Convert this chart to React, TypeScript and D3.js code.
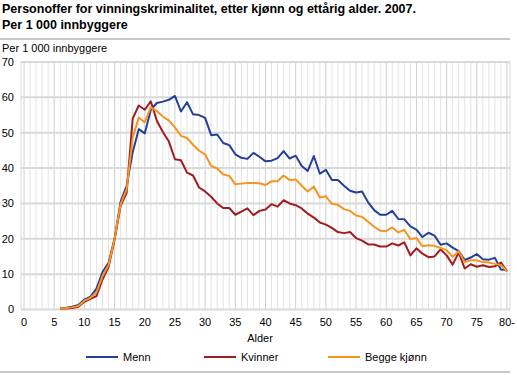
import React from "react";
import * as d3 from "d3";

const ages: string[] = Array.from({ length: 81 }, (_, i) => (i === 80 ? "80-" : String(i)));
const startAge = 6;

const menn: number[] = [
  0.3, 0.5, 0.8, 1.3, 2.8, 3.6, 5.9, 10.6, 13.2, 20.0, 30.5, 35.0, 44.5, 51.0, 49.8, 56.5, 58.4, 58.8, 59.3, 60.4,
  56.0, 58.6, 55.2, 55.0, 54.2, 49.3, 49.5, 47.1, 46.5, 43.9, 42.9, 42.6, 44.3, 43.2, 41.9, 42.1, 42.8, 44.8, 42.7, 43.5,
  40.6, 39.2, 43.4, 38.4, 39.5, 36.6, 36.6, 35.0, 33.6, 33.1, 33.4, 30.3, 28.1, 26.8, 26.8, 27.9, 25.6, 25.5, 23.5, 22.6,
  20.5, 21.7, 20.9, 18.3, 18.7, 17.5, 16.5, 14.0, 14.7, 15.7, 14.2, 14.1, 14.6, 11.3, 11.2,
];
const kvinner: number[] = [
  0.3, 0.3, 0.4, 0.8, 2.2, 3.0, 3.8, 8.5, 12.0, 19.8, 29.3, 33.0, 54.0, 57.7, 56.5, 58.9, 53.4, 50.2, 47.5, 42.5,
  42.2, 38.7, 37.9, 34.5, 33.4, 31.9, 30.0, 28.7, 28.7, 26.8, 27.7, 28.6, 26.7, 27.9, 28.3, 29.8, 29.1, 30.9, 30.0, 29.5,
  28.6, 27.1, 26.0, 24.6, 24.0, 23.1, 21.9, 21.6, 21.9, 20.2, 19.5, 18.4, 18.4, 17.8, 17.8, 18.7, 18.1, 19.0, 15.3, 17.3,
  15.8, 14.8, 15.0, 17.0, 15.3, 12.7, 16.1, 11.6, 12.8, 12.1, 12.5, 12.0, 12.2, 13.3, 10.8,
];
const begge: number[] = [
  0.3, 0.4, 0.6, 1.0, 2.5, 3.3, 4.8, 9.5, 12.6, 20.0, 29.8, 34.0, 48.5, 54.3, 53.0, 57.2, 56.1, 54.6, 53.4, 51.5,
  49.1, 48.5, 46.6, 44.9, 43.9, 40.6, 39.9, 38.2, 37.8, 35.4, 35.6, 35.8, 35.8, 35.7, 35.2, 36.3, 36.3, 37.9, 36.6, 36.8,
  35.0, 33.4, 34.8, 31.7, 32.0, 29.9, 29.6, 28.4, 27.9, 26.6, 26.2, 24.8, 23.4, 22.3, 22.2, 23.2, 21.8, 22.5, 19.9, 20.2,
  17.9, 18.2, 18.0, 17.4, 16.8, 14.9, 16.5, 13.4, 13.9, 13.9, 13.4, 13.3, 12.9, 12.6, 10.8,
];
const yTicks: number[] = [0, 10, 20, 30, 40, 50, 60, 70];
const seriesNames: string[] = ["Menn", "Kvinner", "Begge kjønn"];
const seriesColors: string[] = ["#21409a", "#a01c20", "#f7941e"];

const W = 517;
const H = 375;
const plotLeft = 21;
const plotRight = 510;
const plotTop = 62;
const plotBottom = 309.5;
const font = "'Liberation Sans', Arial, sans-serif";

export default function App() {
  const x = d3.scalePoint<string>().domain(ages).range([plotLeft, plotRight]).padding(0.5);
  const y = d3.scaleLinear().domain([0, 70]).range([plotBottom, plotTop]);
  const line = d3
    .line<number>()
    .x((_, i) => x(ages[i + startAge]) as number)
    .y((d) => y(d));
  const data = [menn, kvinner, begge];
  const legendX = [86, 204, 328];

  return (
    <svg width={W} height={H} style={{ position: "absolute", left: 0, top: 0, background: "#fff" }} fontFamily={font}>
      <text x={2} y={13} fontSize={12.5} fontWeight="bold" fill="#000">
        Personoffer for vinningskriminalitet, etter kjønn og ettårig alder. 2007.
      </text>
      <text x={2} y={29} fontSize={12.5} fontWeight="bold" fill="#000">
        Per 1 000 innbyggere
      </text>
      <line x1={0} x2={510} y1={39} y2={39} stroke="#c8c8c8" strokeWidth={2} />
      <text x={2} y={52} fontSize={11} fill="#000">
        Per 1 000 innbyggere
      </text>
      {ages.map((a, i) => (
        <line
          key={"v" + a}
          x1={x(a)}
          x2={x(a)}
          y1={plotTop}
          y2={plotBottom}
          stroke={i % 5 === 0 ? "#cfcfcf" : "#e3e3e3"}
          strokeWidth={1}
        />
      ))}
      <line x1={plotLeft} x2={plotLeft} y1={plotTop} y2={plotBottom} stroke="#d9d9d9" strokeWidth={1} />
      <line x1={plotRight} x2={plotRight} y1={plotTop} y2={plotBottom} stroke="#d9d9d9" strokeWidth={1} />
      {yTicks.map((t) => (
        <g key={"h" + t}>
          <line x1={plotLeft} x2={plotRight} y1={y(t)} y2={y(t)} stroke="#d9d9d9" strokeWidth={2} />
          <text x={14} y={y(t)} dy="0.35em" fontSize={11} textAnchor="end" fill="#000">
            {t}
          </text>
        </g>
      ))}
      {ages.map((a, i) =>
        i % 5 === 0 ? (
          <text key={"xl" + a} x={x(a)} y={326} fontSize={11} textAnchor="middle" fill="#000">
            {a}
          </text>
        ) : null
      )}
      <text x={260} y={342} fontSize={11} textAnchor="middle" fill="#000">
        Alder
      </text>
      {data.map((d, k) => (
        <path key={"s" + k} d={line(d) || ""} fill="none" stroke={seriesColors[k]} strokeWidth={2} strokeLinejoin="round" />
      ))}
      {seriesNames.map((n, k) => (
        <g key={"lg" + n}>
          <line x1={legendX[k]} x2={legendX[k] + 32} y1={357} y2={357} stroke={seriesColors[k]} strokeWidth={2} />
          <text x={legendX[k] + 37} y={357} dy="0.35em" fontSize={11} fill="#000">
            {n}
          </text>
        </g>
      ))}
      <line x1={0} x2={510} y1={372} y2={372} stroke="#c8c8c8" strokeWidth={2} />
    </svg>
  );
}
